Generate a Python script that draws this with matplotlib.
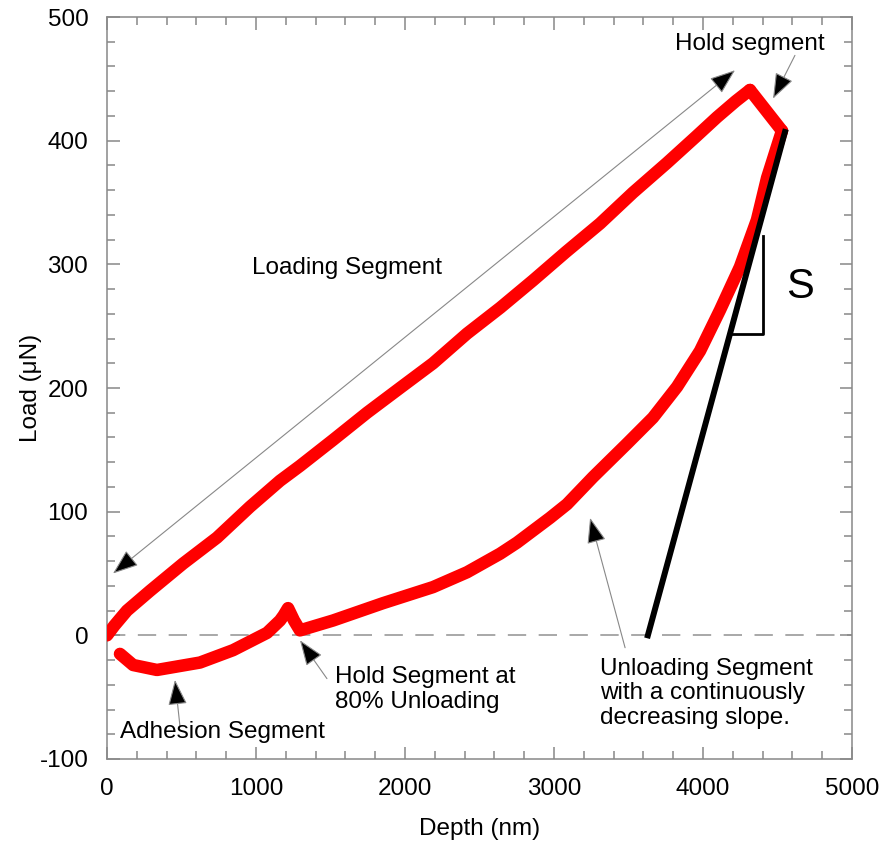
import matplotlib.pyplot as plt
from matplotlib.ticker import MultipleLocator

plt.rcParams['font.family'] = ['Liberation Sans', 'DejaVu Sans']
plt.rcParams['axes.unicode_minus'] = False

# Segmento de carga (profundidad en nm, carga en uN)
prof_carga = [0, 50, 134, 289, 510, 738, 960, 1161, 1295, 1517, 1745, 1966, 2188,
              2416, 2640, 2859, 3080, 3309, 3530, 3758, 3950, 4094, 4220, 4315]
carga_carga = [0, 8, 20, 36, 58, 79, 104, 125, 137, 158, 180, 200, 220,
               244, 265, 287, 310, 333, 358, 382, 403, 419, 432, 441]

# Segmento de mantenimiento en carga maxima
prof_mant = [4315, 4530]
carga_mant = [441, 408]

# Segmento de descarga (con mantenimiento al 80% y adhesion)
prof_desc = [4530, 4430, 4362, 4248, 4114, 3980, 3826, 3664, 3490, 3262, 3087,
             2973, 2752, 2638, 2416, 2188, 1852, 1517, 1295, 1255, 1215, 1185,
             1161, 1074, 846, 624, 335, 175, 87]
carga_desc = [408, 370, 336, 298, 263, 230, 201, 176, 155, 128, 106,
              95, 75, 66, 51, 39, 26, 12, 4, 12, 22, 16,
              12, 2, -12, -22, -28, -24, -15]

# Recta de rigidez S
prof_s = [3630, 4550]
carga_s = [0, 407]
tri_x = [4185, 4400, 4400]
tri_y = [244, 244, 323]

fig = plt.figure(figsize=(8.83, 8.47), dpi=100)
ax = fig.add_axes([0.1212, 0.1039, 0.8437, 0.876])

ax.axhline(0, color='#999999', lw=1.2, dashes=(11, 7.5), zorder=1)

rojo = dict(color='#ff0000', lw=9, solid_capstyle='round', solid_joinstyle='round', zorder=3)
ax.plot(prof_carga, carga_carga, **rojo)
ax.plot(prof_mant, carga_mant, **rojo)
ax.plot(prof_desc, carga_desc, **rojo)

ax.plot(prof_s, carga_s, color='black', lw=4.3, zorder=4)
ax.plot(tri_x, tri_y, color='black', lw=2, zorder=4)
ax.text(4560, 282, 'S', fontsize=30, ha='left', va='center', color='black')

flecha = dict(arrowstyle='-|>,head_length=1.6,head_width=0.6', fc='black',
              ec='#888888', lw=0.8, shrinkA=0, shrinkB=0)
doble = dict(flecha, arrowstyle='<|-|>,head_length=1.6,head_width=0.6')

ax.annotate('', xy=(40, 50), xytext=(4215, 457), arrowprops=doble)
ax.annotate('', xy=(4470, 434), xytext=(4617, 469), arrowprops=flecha)
ax.annotate('', xy=(1295, -4), xytext=(1476, -35), arrowprops=flecha)
ax.annotate('', xy=(456, -36), xytext=(490, -74), arrowprops=flecha)
ax.annotate('', xy=(3242, 95), xytext=(3477, -10), arrowprops=flecha)

fs = 17.5
ax.text(1611, 297, 'Loading Segment', fontsize=fs, ha='center', va='center')
ax.text(4315, 478, 'Hold segment', fontsize=fs, ha='center', va='center')
ax.text(1530, -44, 'Hold Segment at\n80% Unloading', fontsize=fs, ha='left',
        va='center', linespacing=1.15)
ax.text(87, -78, 'Adhesion Segment', fontsize=fs, ha='left', va='center')
ax.text(3309, -47, 'Unloading Segment\nwith a continuously\ndecreasing slope.',
        fontsize=fs, ha='left', va='center', linespacing=1.15)

ax.set_xlim(0, 5000)
ax.set_ylim(-100, 500)
ax.xaxis.set_major_locator(MultipleLocator(1000))
ax.xaxis.set_minor_locator(MultipleLocator(200))
ax.yaxis.set_major_locator(MultipleLocator(100))
ax.yaxis.set_minor_locator(MultipleLocator(20))

for lado in ax.spines.values():
    lado.set_color('#888888')
    lado.set_linewidth(1.1)
ax.tick_params(which='both', direction='in', top=True, right=True,
               color='#888888', width=1.1, labelsize=fs, pad=13.5)
ax.tick_params(which='major', length=9)
ax.tick_params(which='minor', length=5.5)

ax.set_xlabel('Depth (nm)', fontsize=fs)
ax.set_ylabel('Load (μN)', fontsize=fs)
ax.xaxis.set_label_coords(0.5, -0.079)
ax.yaxis.set_label_coords(-0.087, 0.5)

fig.savefig('out.png', dpi=100)
